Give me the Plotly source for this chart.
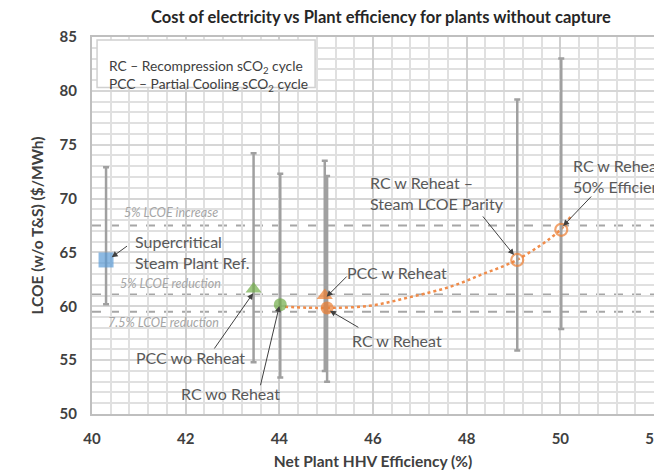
import plotly.graph_objects as go

# ---- data ----
names = ["Supercritical Steam Plant Ref.", "PCC wo Reheat", "RC wo Reheat",
         "PCC w Reheat", "RC w Reheat", "RC w Reheat – Steam LCOE Parity",
         "RC w Reheat 50% Efficiency"]
efficiency = [40.3, 43.45, 44.02, 44.97, 45.02, 49.08, 50.02]
lcoe = [64.3, 61.6, 60.15, 61.0, 59.85, 64.3, 67.1]
lcoe_high = [72.9, 74.2, 72.3, 73.5, 72.1, 79.2, 83.0]
lcoe_low = [60.2, 54.8, 53.4, 54.0, 53.0, 55.9, 57.9]
symbols = ["square", "triangle-up", "circle", "triangle-up", "circle",
           "circle-open", "circle-open"]
colors = ["#5B9BD5", "#70AD47", "#70AD47", "#ED7D31", "#ED7D31",
          "#ED7D31", "#ED7D31"]

# orange dotted trend curve
trend_x = [44.12, 45.0, 45.93, 46.79, 47.64, 48.35, 49.07, 50.0, 50.24]
trend_y = [59.95, 59.85, 60.05, 60.85, 61.8, 63.0, 64.3, 67.1, 68.5]

# reference LCOE bands
band_levels = [67.5, 61.1, 59.5]
band_labels = ["5% LCOE increase", "5% LCOE reduction", "7.5% LCOE reduction"]
band_label_x = [41.69, 41.68, 41.53]
band_label_y = [68.75, 62.16, 58.45]

x_ticks = [40, 42, 44, 46, 48, 50, 52]
y_ticks = [50, 55, 60, 65, 70, 75, 80, 85]

# point labels: text, text x, text y, anchor, arrow tail x/y, arrow head x/y
labels = [
    ("Supercritical<br>Steam Plant Ref.", 40.88, 65.0, "left", 40.78, 65.69, 40.42, 64.55),
    ("PCC wo Reheat", 42.11, 55.2, "center", 42.59, 55.94, 43.44, 61.21),
    ("RC wo Reheat", 42.95, 51.95, "center", 43.59, 52.53, 44.0, 60.03),
    ("PCC w Reheat", 46.52, 63.18, "center", 45.47, 62.9, 45.01, 60.89),
    ("RC w Reheat", 46.52, 56.87, "center", 45.72, 57.96, 45.08, 59.59),
    ("RC w Reheat –<br>Steam LCOE Parity", 45.89, 70.52, "left", 48.32, 68.48, 49.01, 64.76),
    ("RC w Reheat<br>50% Efficiency", 50.23, 72.1, "left", 50.69, 70.33, 50.06, 67.46),
]

FONT = "Lato, 'Open Sans', sans-serif"

fig = go.Figure()

fig.add_trace(go.Scatter(
    x=trend_x, y=trend_y, mode="lines",
    line=dict(color="#F08C4A", width=2.5, dash="dot", shape="spline"),
    hoverinfo="skip", showlegend=False))

plus = [h - v for h, v in zip(lcoe_high, lcoe)]
minus = [v - l for v, l in zip(lcoe, lcoe_low)]

fig.add_trace(go.Scatter(
    x=efficiency, y=lcoe, mode="markers", text=names,
    marker=dict(symbol=symbols, color=colors, size=[15, 14, 13, 14, 13, 12, 12],
                line=dict(width=[0, 0, 0, 0, 0, 2.2, 2.2], color=colors)),
    error_y=dict(type="data", symmetric=False, array=plus, arrayminus=minus,
                 color="#A0A0A0", thickness=2.5, width=3),
    showlegend=False))

shapes = []
for lv in band_levels:
    shapes.append(dict(type="line", xref="paper", x0=0, x1=1, yref="y", y0=lv, y1=lv,
                       line=dict(color="#A6A6A6", width=2, dash="dash"), layer="between"))
# inset text box
shapes.append(dict(type="rect", xref="paper", yref="paper", x0=0.009, x1=0.397,
                   y0=0.866, y1=0.992, line=dict(color="#D0D0D0", width=1.5),
                   fillcolor="white", layer="above"))

annotations = []
for t, xx, yy in zip(band_labels, band_label_x, band_label_y):
    annotations.append(dict(x=xx, y=yy, xref="x", yref="y", text="<i>" + t + "</i>",
                            showarrow=False, font=dict(family=FONT, size=12.5, color="#A6A6A6")))

for (t, tx, ty, anc, ax_, ay_, hx, hy) in labels:
    annotations.append(dict(x=tx, y=ty, xref="x", yref="y", text=t, showarrow=False,
                            xanchor=anc, align="left",
                            font=dict(family=FONT, size=16, color="#595959")))
    annotations.append(dict(x=hx, y=hy, xref="x", yref="y", ax=ax_, ay=ay_,
                            axref="x", ayref="y", text="", showarrow=True,
                            arrowhead=2, arrowsize=1.2, arrowwidth=1, arrowcolor="#404040"))

annotations.append(dict(xref="paper", yref="paper", x=0.027, y=0.952, xanchor="left",
                        text="RC – Recompression sCO<sub>2</sub> cycle", showarrow=False,
                        font=dict(family=FONT, size=13.8, color="#404040")))
annotations.append(dict(xref="paper", yref="paper", x=0.027, y=0.905, xanchor="left",
                        text="PCC – Partial Cooling sCO<sub>2</sub> cycle", showarrow=False,
                        font=dict(family=FONT, size=13.8, color="#404040")))
annotations.append(dict(xref="paper", yref="paper", x=0.514, y=1.0, yshift=20,
                        xanchor="center", yanchor="middle",
                        text="<b>Cost of electricity vs Plant efficiency for plants without capture</b>",
                        showarrow=False, font=dict(family=FONT, size=16.5, color="#262626")))

fig.update_layout(
    width=654, height=475,
    margin=dict(l=92, r=0, t=37, b=61, autoexpand=False),
    paper_bgcolor="white", plot_bgcolor="white",
    font=dict(family=FONT, color="#404040"),
    shapes=shapes, annotations=annotations,
    xaxis=dict(range=[40, 52], tickvals=x_ticks, ticktext=[f"<b>{v}</b>" for v in x_ticks],
               tickfont=dict(size=15, color="#404040"), ticklabeloverflow="allow",
               automargin=False,
               showgrid=True, gridcolor="#CFCFCF", gridwidth=1.5,
               minor=dict(dtick=0.4, showgrid=True, gridcolor="#E0E0E0", gridwidth=1.5),
               showline=True, linecolor="#BFBFBF", linewidth=2, mirror=True,
               zeroline=False, ticks="", ticklabelstandoff=10,
               title=dict(text="<b>Net Plant HHV Efficiency (%)</b>", standoff=10,
                          font=dict(size=15.5, color="#404040"))),
    yaxis=dict(range=[50, 85], tickvals=y_ticks, ticktext=[f"<b>{v}</b>" for v in y_ticks],
               tickfont=dict(size=15, color="#404040"), automargin=False,
               showgrid=True, gridcolor="#D6D6D6", gridwidth=1.5,
               minor=dict(dtick=1, showgrid=True, gridcolor="#E0E0E0", gridwidth=1.5),
               showline=True, linecolor="#BFBFBF", linewidth=2, mirror=True,
               zeroline=False, ticks="", ticklabelstandoff=10,
               title=dict(text="<b>LCOE (w/o T&S) ($/MWh)</b>", standoff=12,
                          font=dict(size=15.5, color="#404040"))),
)

fig.write_html("out.html")
